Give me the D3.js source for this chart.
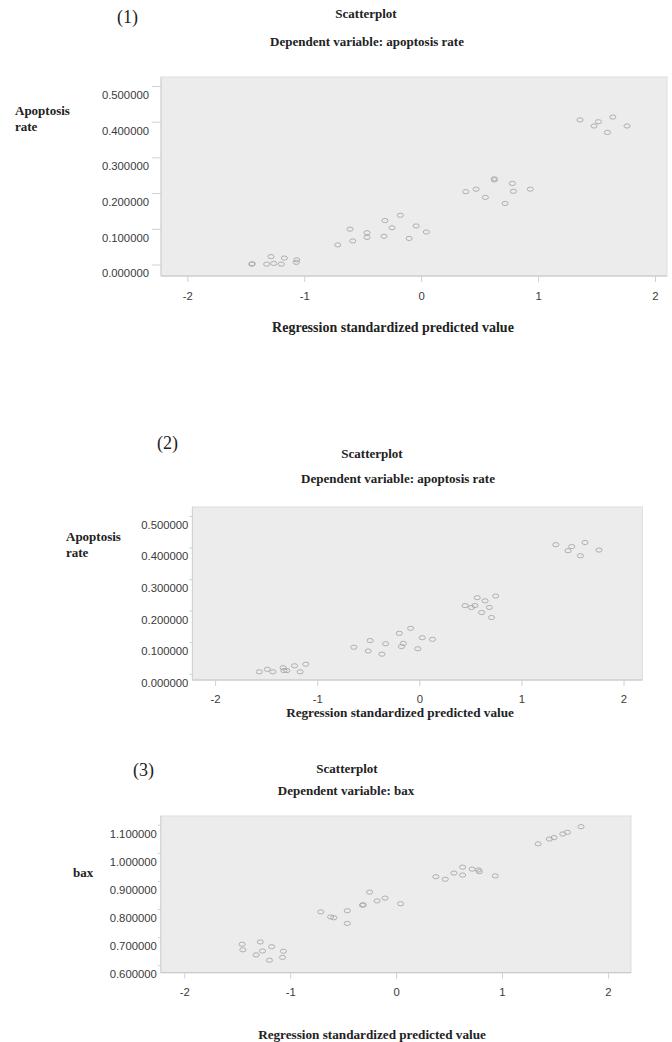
<!DOCTYPE html>
<html>
<head>
<meta charset="utf-8">
<script src="https://cdn.jsdelivr.net/npm/d3@7"></script>
<style>
  html,body{margin:0;padding:0;background:#fff;}
  svg{display:block;}
</style>
</head>
<body>
<svg id="chart" width="672" height="1042"></svg>
<script>
"use strict";
// three SPSS scatterplots: regression standardized predicted value vs dependent variable

const xTicks = [-2, -1, 0, 1, 2];
const xTickLabels = ["-2", "-1", "0", "1", "2"];
const yTicksRate = [0, 0.1, 0.2, 0.3, 0.4, 0.5];
const yTicksBax = [0.6, 0.7, 0.8, 0.9, 1.0, 1.1];

// (1) apoptosis rate
const p1X = [-1.449,-1.444,-1.321,-1.284,-1.261,-1.196,-1.170,-1.068,-1.064,
  -0.713,-0.608,-0.585,-0.463,-0.463,-0.318,-0.310,-0.249,-0.178,-0.103,-0.043,0.044,
  0.382,0.470,0.549,0.626,0.626,0.718,0.780,0.789,0.934,
  1.359,1.479,1.516,1.593,1.639,1.761];
const p1Y = [0.001,0.002,0.001,0.022,0.003,0.001,0.018,0.006,0.013,
  0.055,0.099,0.066,0.089,0.076,0.079,0.123,0.103,0.138,0.073,0.108,0.091,
  0.204,0.211,0.188,0.240,0.237,0.171,0.227,0.205,0.211,
  0.405,0.388,0.400,0.370,0.413,0.388];

// (2) apoptosis rate
const p2X = [-1.567,-1.489,-1.434,-1.334,-1.326,-1.297,-1.222,-1.167,-1.112,
  -0.641,-0.500,-0.482,-0.366,-0.330,-0.196,-0.175,-0.156,-0.085,-0.015,0.029,0.129,
  0.449,0.511,0.545,0.567,0.611,0.644,0.686,0.707,0.748,
  1.337,1.457,1.493,1.578,1.623,1.760];
const p2Y = [0.006,0.014,0.006,0.019,0.010,0.010,0.025,0.006,0.030,
  0.084,0.072,0.105,0.062,0.095,0.128,0.086,0.096,0.144,0.079,0.114,0.109,
  0.216,0.210,0.216,0.241,0.194,0.231,0.210,0.178,0.246,
  0.409,0.390,0.403,0.374,0.416,0.392];

// (3) bax
const p3X = [-1.454,-1.447,-1.322,-1.282,-1.261,-1.196,-1.175,-1.072,-1.064,
  -0.711,-0.618,-0.589,-0.461,-0.461,-0.318,-0.310,-0.250,-0.179,-0.104,0.043,
  0.375,0.464,0.546,0.628,0.628,0.718,0.778,0.786,0.936,
  1.341,1.448,1.491,1.574,1.617,1.746];
const p3Y = [0.675,0.655,0.637,0.683,0.651,0.618,0.666,0.628,0.650,
  0.790,0.772,0.769,0.794,0.749,0.814,0.815,0.860,0.829,0.839,0.819,
  0.915,0.906,0.928,0.949,0.921,0.942,0.939,0.933,0.918,
  1.032,1.049,1.054,1.067,1.073,1.093];

const SERIF = "'Liberation Serif','Times New Roman',serif";
const SANS = "'Liberation Sans',Arial,sans-serif";

// layout of each panel (pixels)
const panels = [
  { num:"(1)", numX:117, numY:17, titleX:366, titleY:13, subX:367, subY:41,
    sub:"Dependent variable: apoptosis rate", yTitle:["Apoptosis","rate"], yTitleX:15, yTitleY:110,
    box:[161,77,667,276], xr:[187.3,655], yr:[264.5,86], yd:[0,0.5], yTicks:yTicksRate,
    tickY:9, labGap:3, xLabY:20.5, axTitleX:393, axTitleY:327, axSize:14, xs:p1X, ys:p1Y },
  { num:"(2)", numX:157, numY:443, titleX:372, titleY:453, subX:398, subY:478,
    sub:"Dependent variable: apoptosis rate", yTitle:["Apoptosis","rate"], yTitleX:66, yTitleY:536,
    box:[192.4,507,642.4,680], xr:[215.1,623.5], yr:[673.7,516], yd:[0,0.5], yTicks:yTicksRate,
    tickY:3, labGap:1, xLabY:19.5, axTitleX:400, axTitleY:712, axSize:13.2, xs:p2X, ys:p2Y },
  { num:"(3)", numX:133, numY:770, titleX:347, titleY:768, subX:346, subY:790,
    sub:"Dependent variable: bax", yTitle:["bax"], yTitleX:73, yTitleY:872,
    box:[160.8,816,631,972.7], xr:[184.3,607.9], yr:[965.3,824.7], yd:[0.6,1.1], yTicks:yTicksBax,
    tickY:3, labGap:1, xLabY:19, axTitleX:372, axTitleY:1034, axSize:13.2, xs:p3X, ys:p3Y }
];

const svg = d3.select("#chart");
svg.append("rect").attr("width",672).attr("height",1042).attr("fill","#fff");

panels.forEach((p)=>{
  const g = svg.append("g");
  const [x0,y0,x1,y1] = p.box;
  const x = d3.scaleLinear().domain([-2,2]).range(p.xr);
  const y = d3.scaleLinear().domain(p.yd).range(p.yr);

  // headings
  g.append("text").attr("x",p.numX).attr("y",p.numY).attr("dy","0.35em")
    .attr("font-family",SERIF).attr("font-size",18).attr("fill","#222").text(p.num);
  g.append("text").attr("x",p.titleX).attr("y",p.titleY).attr("dy","0.35em").attr("text-anchor","middle")
    .attr("font-family",SERIF).attr("font-weight","bold").attr("font-size",13).attr("fill","#222").text("Scatterplot");
  g.append("text").attr("x",p.subX).attr("y",p.subY).attr("dy","0.35em").attr("text-anchor","middle")
    .attr("font-family",SERIF).attr("font-weight","bold").attr("font-size",13).attr("fill","#222").text(p.sub);
  p.yTitle.forEach((t,i)=>{
    g.append("text").attr("x",p.yTitleX).attr("y",p.yTitleY + i*16).attr("dy","0.35em")
      .attr("font-family",SERIF).attr("font-weight","bold").attr("font-size",13).attr("fill","#222").text(t);
  });

  // plot background
  g.append("rect").attr("x",x0).attr("y",y0).attr("width",x1-x0).attr("height",y1-y0)
    .attr("fill","#ececec").attr("stroke","#dedede").attr("stroke-width",1);
  g.append("line").attr("x1",x0).attr("x2",x1).attr("y1",y1).attr("y2",y1).attr("stroke","#c4c4c4");
  g.append("line").attr("x1",x0).attr("x2",x0).attr("y1",y0).attr("y2",y1).attr("stroke","#d2d2d2");

  // y axis (labels sit a little below their tick, as in the original)
  const ya = g.append("g").attr("transform",`translate(${x0},0)`)
    .call(d3.axisLeft(y).tickValues(p.yTicks).tickFormat(d3.format(".6f")).tickSize(p.tickY).tickPadding(p.labGap));
  ya.select(".domain").remove();
  ya.selectAll("line").attr("stroke","#d0d0d0");
  ya.selectAll("text").attr("y",8.5).attr("dy","0.35em")
    .attr("font-family",SANS).attr("font-size",11.3).attr("fill","#3a3a3a");

  // x axis
  const xa = g.append("g").attr("transform",`translate(0,${y1})`)
    .call(d3.axisBottom(x).tickValues(xTicks).tickFormat((d,i)=>xTickLabels[i]).tickSize(6));
  xa.select(".domain").remove();
  xa.selectAll("line").attr("stroke","#d0d0d0");
  xa.selectAll("text").attr("y",p.xLabY).attr("dy","0.35em")
    .attr("font-family",SANS).attr("font-size",11.3).attr("fill","#3a3a3a");

  g.append("text").attr("x",p.axTitleX).attr("y",p.axTitleY).attr("dy","0.35em").attr("text-anchor","middle")
    .attr("font-family",SERIF).attr("font-weight","bold").attr("font-size",p.axSize).attr("fill","#222")
    .text("Regression standardized predicted value");

  // points: small open ellipses
  const pts = p.xs.map((v,i)=>({x:v, y:p.ys[i]}));
  g.append("g").selectAll("ellipse").data(pts).join("ellipse")
    .attr("cx",(d)=>x(d.x)).attr("cy",(d)=>y(d.y)).attr("rx",3.1).attr("ry",2.1)
    .attr("fill","none").attr("stroke","#a8a8a8").attr("stroke-width",0.9);
});
</script>
</body>
</html>
